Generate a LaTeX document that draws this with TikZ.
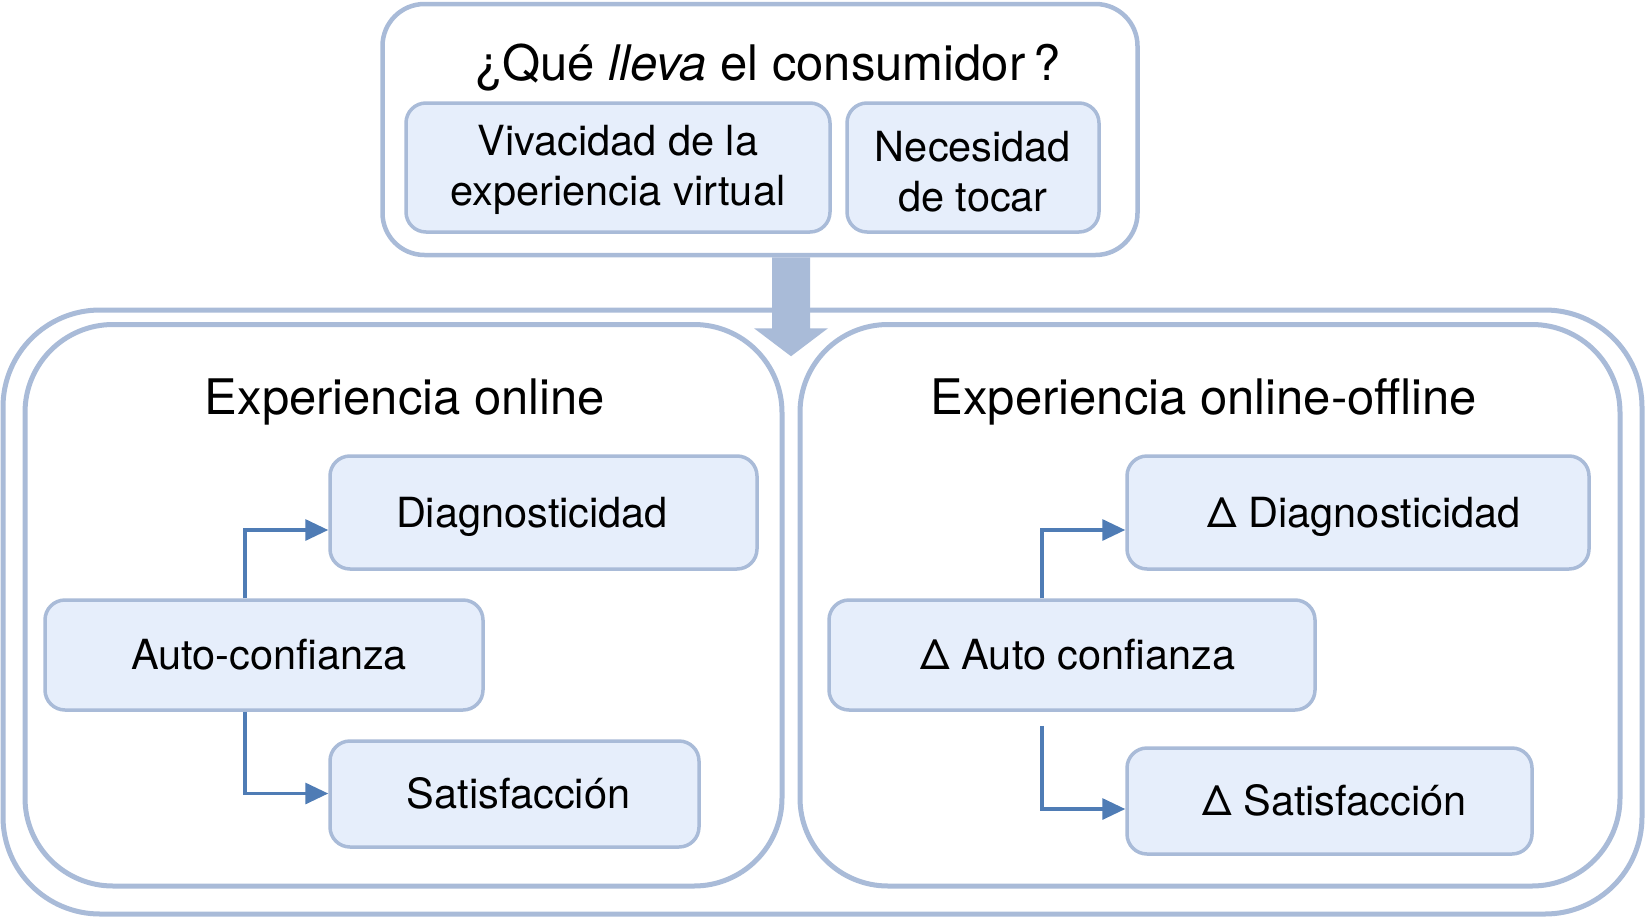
\documentclass[tikz,border=0pt]{standalone}
\usepackage{fontspec}
\setmainfont{TeX Gyre Heros}
\usetikzlibrary{arrows.meta,calc}
\definecolor{edgeblue}{HTML}{A9BBD8}
\definecolor{fillblue}{HTML}{E6EEFB}
\definecolor{linkblue}{HTML}{4F7CB5}
\begin{document}
\begin{tikzpicture}[x=1pt,y=-1pt,
  bigframe/.style={draw=edgeblue, line width=5pt, inner sep=0pt, fill=white},
  topframe/.style={draw=edgeblue, line width=4.5pt, inner sep=0pt, rounded corners=42pt, fill=white},
  smallbox/.style={draw=edgeblue, fill=fillblue, line width=3.5pt, inner sep=0pt,
    rounded corners=20pt, align=center, font=\fontsize{41.5}{50}\selectfont},
  onebox/.style={smallbox, text height=29.8pt, text depth=0pt},
  heading/.style={inner sep=0pt, font=\fontsize{49}{58}\selectfont, text height=35.2pt, text depth=0pt},
  conn/.style={draw=linkblue, line width=3.3pt, -{Triangle[length=23pt,width=21pt]}},
  blockarrow/.style={fill=edgeblue}
]
\useasboundingbox (0,0) rectangle (1646,918);

% outer frames
\node[bigframe, rounded corners=97pt, minimum width=1639pt, minimum height=604pt] (outer) at (822.5,612) {};
\node[bigframe, rounded corners=88pt, minimum width=757pt, minimum height=561.5pt] (lp) at (403.5,605.25) {};
\node[bigframe, rounded corners=88pt, minimum width=820pt, minimum height=561.5pt] (rp) at (1210,605.25) {};

% top box
\node[topframe, minimum width=755pt, minimum height=251pt] (top) at (760,129.5) {};
\node[heading] (title) at (768,63) {¿Qué \textit{lleva} el consumidor\,?};
\node[smallbox, minimum width=424pt, minimum height=129pt] (viv) at (618,167.5) {\rule{0pt}{35pt}Vivacidad de la\\experiencia virtual};
\node[smallbox, minimum width=252pt, minimum height=129pt] (nec) at (973,167.5) {\rule{0pt}{39pt}Necesidad\\de tocar};

% block arrow
\coordinate (gap) at ($(lp.east)!0.5!(rp.west)$);
\coordinate (ac) at (top.south -| gap);
\fill[blockarrow] (ac) ++(-19,0) -- ++(0,71) -- ++(-18,0) -- ++(37,28) -- ++(37,-28) -- ++(-18,0) -- ++(0,-71) -- cycle;

% headings
\node[heading] (hl) at (405,397) {Experiencia online};
\node[heading] (hr) at (1204,397) {Experiencia online-offline};

% left panel boxes
\node[onebox, minimum width=427pt, minimum height=113pt] (diag) at (543.5,512.5) {Diagnosticidad\hspace*{23pt}};
\node[onebox, minimum width=438pt, minimum height=110pt] (auto) at (264,655) {\hspace*{10pt}Auto-confianza};
\node[onebox, minimum width=369pt, minimum height=106pt] (sat) at (514.5,794) {\hspace*{8pt}Satisfacción};

% right panel boxes
\node[onebox, minimum width=462pt, minimum height=113pt] (ddiag) at (1358,512.5) {\hspace*{12pt}Δ Diagnosticidad};
\node[onebox, minimum width=486pt, minimum height=110pt] (dauto) at (1072,655) {\hspace*{12pt}Δ Auto confianza};
\node[onebox, minimum width=405pt, minimum height=106pt] (dsat) at (1329.5,801) {\hspace*{10pt}Δ Satisfacción};

% connectors
\coordinate (a1) at (245,530);
\coordinate (a2) at (245,793.5);
\coordinate (b1) at (1042,530);
\coordinate (b2) at (1042,809);
\draw[conn] (auto.north -| a1) -- (a1) -- (a1 -| diag.west);
\draw[conn] (auto.south -| a2) -- (a2) -- (a2 -| sat.west);
\draw[conn] (dauto.north -| b1) -- (b1) -- (b1 -| ddiag.west);
\draw[conn, shorten <=14pt] (dauto.south -| b2) -- (b2) -- (b2 -| dsat.west);
\end{tikzpicture}
\end{document}
